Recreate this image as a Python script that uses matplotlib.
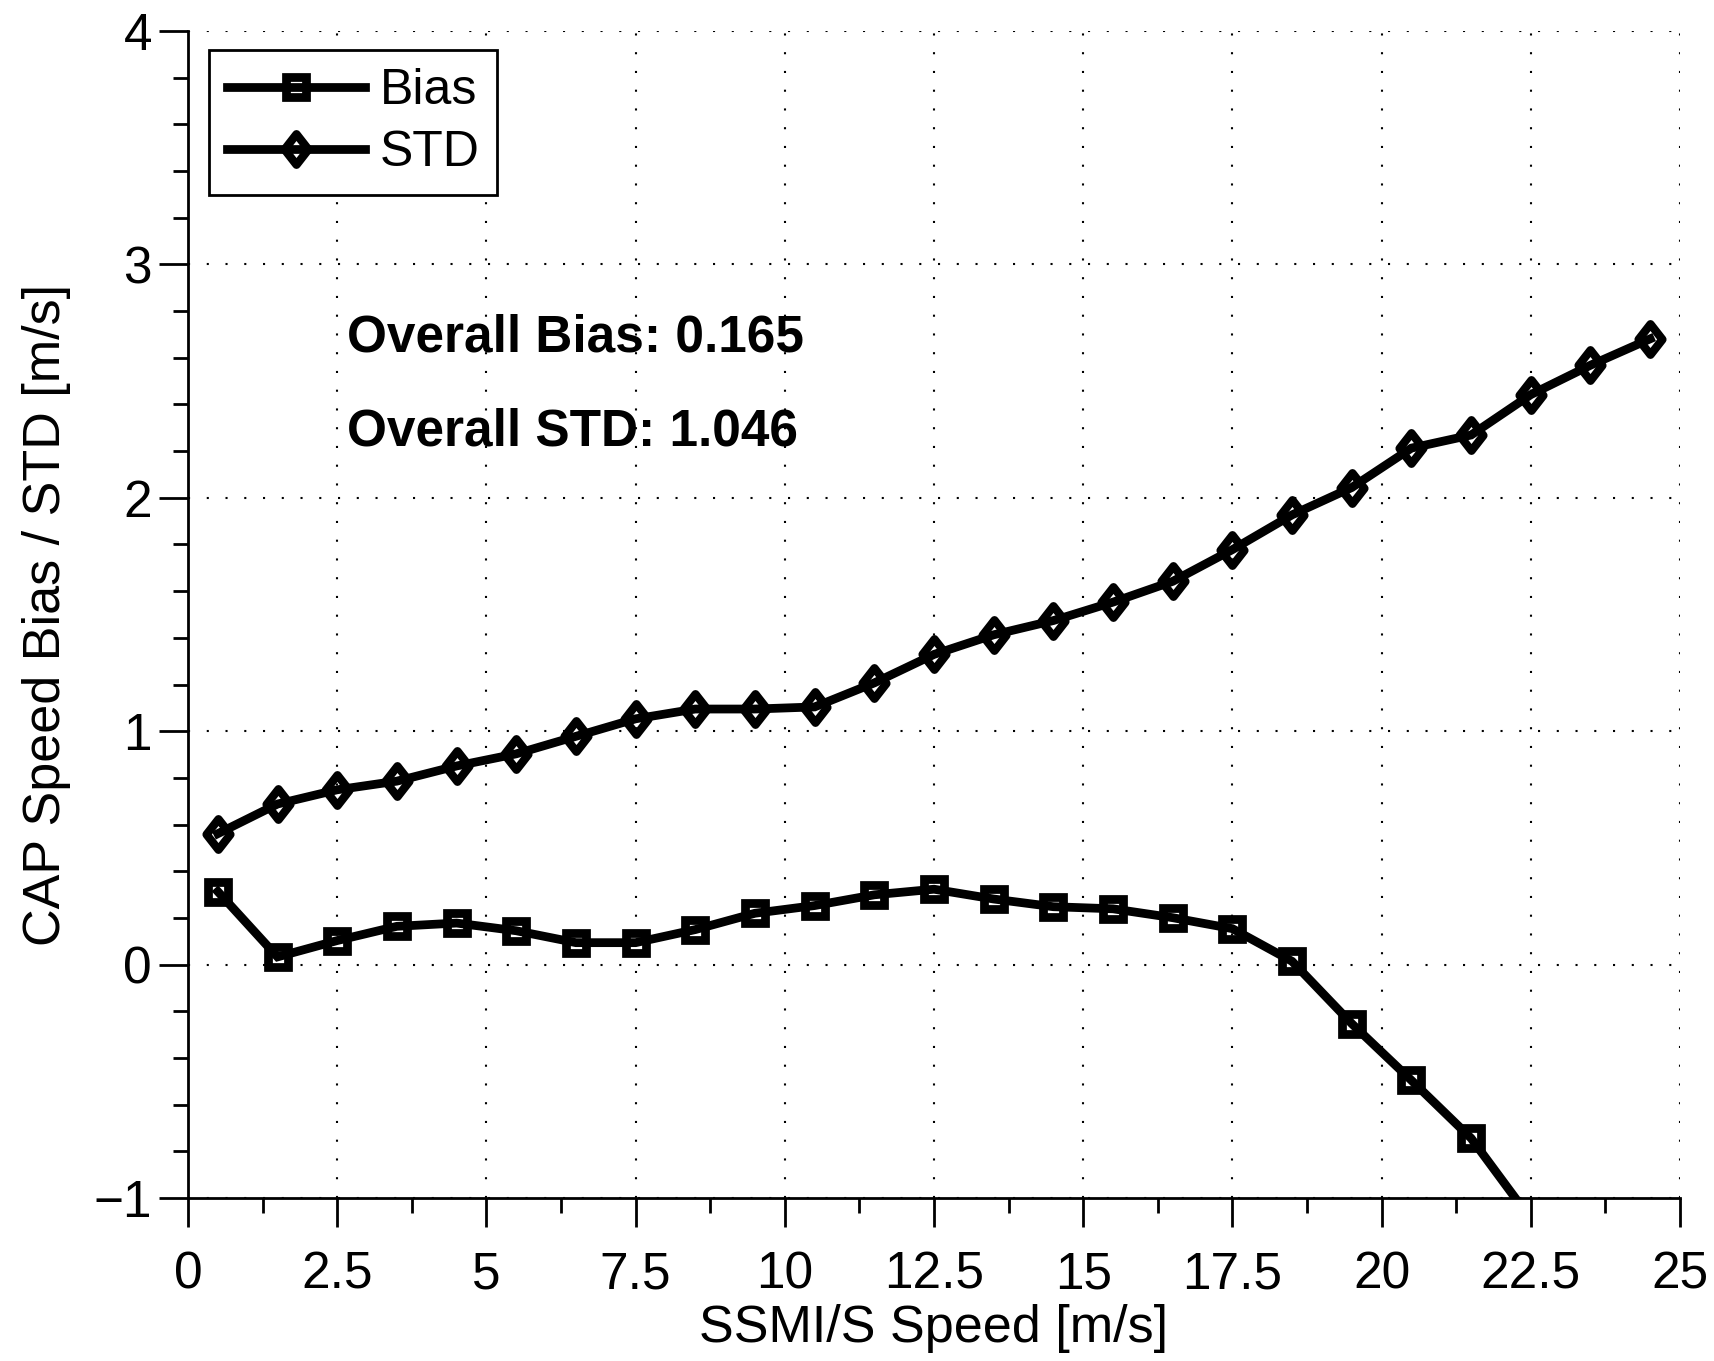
import matplotlib
matplotlib.use("Agg")
import matplotlib.pyplot as plt
from matplotlib.path import Path
from matplotlib.markers import MarkerStyle
from matplotlib.ticker import MultipleLocator, FuncFormatter

plt.rcParams['font.family'] = ['Liberation Sans', 'DejaVu Sans']

speed = [0.5, 1.5, 2.5, 3.5, 4.5, 5.5, 6.5, 7.5, 8.5, 9.5, 10.5, 11.5, 12.5,
         13.5, 14.5, 15.5, 16.5, 17.5, 18.5, 19.5, 20.5, 21.5, 22.5, 23.5, 24.5]
bias = [0.313, 0.033, 0.103, 0.164, 0.178, 0.145, 0.094, 0.094, 0.150, 0.220,
        0.253, 0.299, 0.323, 0.281, 0.248, 0.239, 0.201, 0.154, 0.014, -0.253,
        -0.496, -0.744, -1.09, None, None]
std = [0.561, 0.688, 0.749, 0.786, 0.851, 0.903, 0.978, 1.053, 1.095, 1.095,
       1.104, 1.207, 1.329, 1.413, 1.474, 1.553, 1.642, 1.778, 1.927, 2.044,
       2.213, 2.269, 2.442, 2.568, 2.681]
overall_bias = 0.165
overall_std = 1.046

xb = [s for s, b in zip(speed, bias) if b is not None]
yb = [b for b in bias if b is not None]

fig = plt.figure(figsize=(17.14, 13.61), dpi=100)
ax = fig.add_axes([188/1714, 1 - 1198/1361, (1680-188)/1714, (1198-31)/1361])

diamond_path = Path([(0, 1), (0.78, 0), (0, -1), (-0.78, 0), (0, 1)],
                    [Path.MOVETO, Path.LINETO, Path.LINETO, Path.LINETO, Path.CLOSEPOLY])
diamond = MarkerStyle(diamond_path, joinstyle='miter')
square = MarkerStyle('s', joinstyle='miter')

ax.plot(xb, yb, color='black', lw=6.3, marker=square, ms=15, mew=6.3,
        mfc='none', mec='black', label='Bias', solid_joinstyle='miter')
ax.plot(speed, std, color='black', lw=6.3, marker=diamond, ms=22, mew=6.0,
        mfc='none', mec='black', label='STD', solid_joinstyle='miter')

ax.set_xlim(0, 25)
ax.set_ylim(-1, 4)
ax.xaxis.set_major_locator(MultipleLocator(2.5))
ax.xaxis.set_minor_locator(MultipleLocator(1.25))
ax.yaxis.set_major_locator(MultipleLocator(1))
ax.yaxis.set_minor_locator(MultipleLocator(0.2))


def fmt(v, pos):
    return ('%g' % v).replace('-', '\u2212')


ax.xaxis.set_major_formatter(FuncFormatter(fmt))
ax.yaxis.set_major_formatter(FuncFormatter(fmt))

for side in ['top', 'right']:
    ax.spines[side].set_visible(False)
for side in ['left', 'bottom']:
    ax.spines[side].set_linewidth(2)

ax.tick_params(which='major', direction='out', length=21, width=2,
               labelsize=37, color='black')
ax.tick_params(which='minor', direction='out', length=10.5, width=2)
ax.tick_params(axis='x', which='major', pad=17)
ax.tick_params(axis='y', which='major', pad=5)

ax.grid(True, which='major', color='black', linestyle=(0, (1, 8)), lw=1.5)
ax.set_axisbelow(True)

ax.set_xlabel('SSMI/S Speed [m/s]', fontsize=37.5, labelpad=3)
ax.set_ylabel('CAP Speed Bias / STD [m/s]', fontsize=37.5, labelpad=16)

ax.text(2.66, 2.625, 'Overall Bias: %.3f' % overall_bias, fontsize=37,
        fontweight='bold', va='baseline', ha='left')
ax.text(2.66, 2.226, 'Overall STD: %.3f' % overall_std, fontsize=37,
        fontweight='bold', va='baseline', ha='left')

leg = ax.legend(loc='upper left', fontsize=36, handlelength=2.75,
                handletextpad=0.3, borderpad=0.36, labelspacing=0.33,
                borderaxespad=0, fancybox=False, framealpha=1,
                edgecolor='black',
                bbox_to_anchor=((209-188)/1492, 1 - (50-31)/1167))
leg.get_frame().set_linewidth(2)

fig.savefig('out.png', dpi=100)
